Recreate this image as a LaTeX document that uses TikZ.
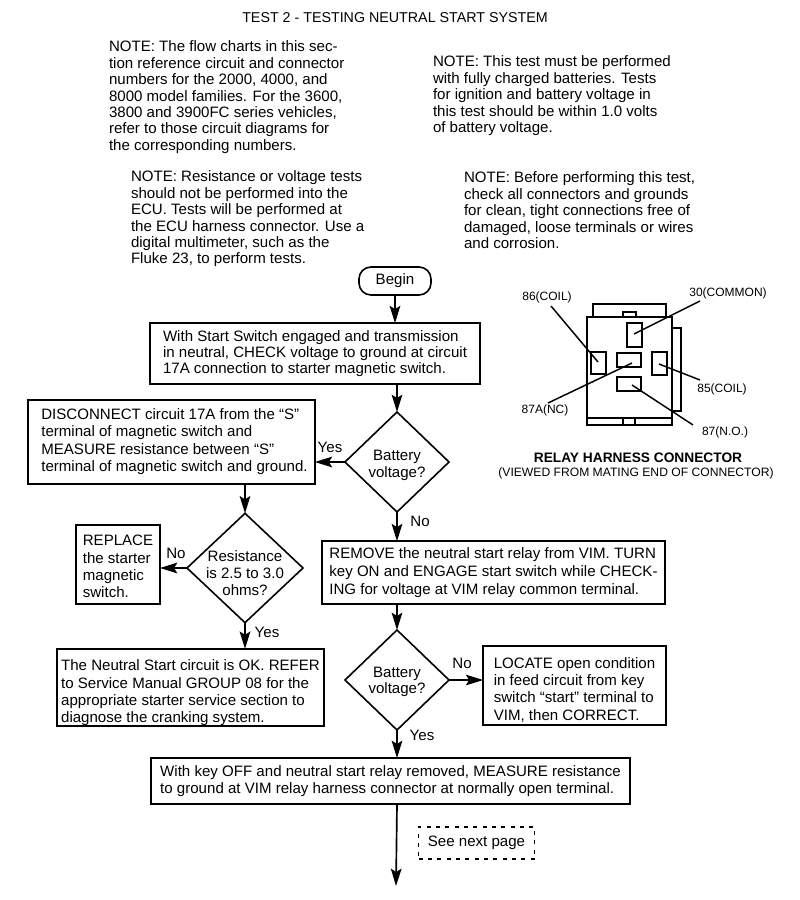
\documentclass[tikz,border=0pt]{standalone}
\usepackage{fontspec}
\setmainfont{Liberation Sans}
\usetikzlibrary{shapes.geometric,arrows.meta}
\tikzset{
  every node/.style={inner sep=0pt,outer sep=0pt,font=\fontsize{11.3}{12.3}\selectfont},
  note/.style={anchor=north west,align=left},
  pbox/.style={draw,line width=1.2pt,minimum width=#1,align=left},
  pbox/.default=10pt,
  wide/.style={font=\fontsize{11.3}{12.9}\selectfont},
  wider/.style={font=\fontsize{11.3}{13.6}\selectfont},
  dec/.style={draw,diamond,aspect=1.04,line width=1.2pt,align=center,inner sep=-9pt},
  flow/.style={line width=1.25pt,-{Stealth[length=13pt,width=8pt,inset=2.5pt]}},
  lab/.style={font=\fontsize{11.3}{12}\selectfont},
  small/.style={font=\fontsize{9}{10}\selectfont},
  rel/.style={draw,line width=1.1pt},
  lead/.style={line width=1.1pt},
}
\begin{document}
\begin{tikzpicture}[x=0.75pt,y=-0.75pt]
\useasboundingbox (0,0) rectangle (800,900);
\node (title) at (395,18) {\fontsize{10.7}{12}\selectfont TEST 2 - TESTING NEUTRAL START SYSTEM};
\node[note] (n1) at (109,41) {NOTE: The flow charts in this sec-\\tion reference circuit and connector\\numbers for the 2000, 4000, and\\8000 model families. For the 3600,\\3800 and 3900FC series vehicles,\\refer to those circuit diagrams for\\the corresponding numbers.};
\node[note] (n2) at (433,56) {NOTE: This test must be performed\\with fully charged batteries. Tests\\for ignition and battery voltage in\\this test should be within 1.0 volts\\of battery voltage.};
\node[note] (n3) at (131,171) {NOTE: Resistance or voltage tests\\should not be performed into the\\ECU. Tests will be performed at\\the ECU harness connector. Use a\\digital multimeter, such as the\\Fluke 23, to perform tests.};
\node[note] (n4) at (464,172) {NOTE: Before performing this test,\\check all connectors and grounds\\for clean, tight connections free of\\damaged, loose terminals or wires\\and corrosion.};

\node[draw,line width=1.2pt,rounded corners=9pt,minimum width=54pt,minimum height=21pt] (begin) at (395,281) {Begin};
\node[pbox=247.5pt,minimum height=45.5pt,inner sep=4pt] (b1) at (315,353.5) {With Start Switch engaged and transmission\\in neutral, CHECK voltage to ground at circuit\\17A connection to starter magnetic switch.};
\node[dec,minimum width=78pt,minimum height=75pt] (d1) at (397,462) {\rule{0pt}{13pt}Battery\\voltage?};
\node[pbox=215pt,minimum height=63pt,inner sep=4pt,wide] (b2) at (171.5,442) {\begin{tabular}{@{\hspace{4.5pt}}l@{}}DISCONNECT circuit 17A from the ``S''\\terminal of magnetic switch and\\MEASURE resistance between ``S''\\terminal of magnetic switch and ground.\end{tabular}};
\node[dec,minimum width=87pt,minimum height=82pt,wide] (d2) at (245,568) {\rule{0pt}{16pt}Resistance\\is 2.5 to 3.0\\ohms?};
\node[pbox=63pt,minimum height=59pt,inner xsep=3pt,inner ysep=0pt,wide] (b3) at (118,564.5) {\rule{0pt}{11pt}REPLACE\\the starter\\magnetic\\switch.};
\node[pbox=200pt,minimum height=58pt,inner xsep=3pt,inner ysep=0pt,wide] (b4) at (190.5,687.5) {\rule{0pt}{16pt}The Neutral Start circuit is OK. REFER\\to Service Manual GROUP 08 for the\\appropriate starter service section to\\diagnose the cranking system.};
\node[pbox=257pt,minimum height=47pt,inner sep=4pt,wider] (b5) at (493.5,572.5) {REMOVE the neutral start relay from VIM. TURN\\key ON and ENGAGE start switch while CHECK-\\ING for voltage at VIM relay common terminal.};
\node[dec,minimum width=78pt,minimum height=75pt] (d3) at (397,680) {\rule{0pt}{11pt}Battery\\voltage?};
\node[pbox=137pt,minimum height=59pt,inner xsep=4pt,inner ysep=0pt,wide] (b6) at (574.5,685.5) {\rule{0pt}{14.5pt}LOCATE open condition\\in feed circuit from key\\switch ``start'' terminal to\\VIM, then CORRECT.};
\node[pbox=359pt,minimum height=34.5pt,inner sep=4pt] (b7) at (390.5,781) {With key OFF and neutral start relay removed, MEASURE resistance\\to ground at VIM relay harness connector at normally open terminal.};
\node[draw,line width=1.2pt,dash pattern=on 3pt off 4pt,minimum width=87pt,minimum height=24pt,text depth=2pt] (next) at (476.5,843) {See next page};
\coordinate (end) at (396,886);

\draw[flow] (begin) -- (begin |- b1.north);
\draw[flow] (d1 |- b1.south) -- (d1.north);
\draw[flow] (d1.west) -- (b2.east |- d1.west);
\draw[flow] (d1.south) -- (d1 |- b5.north);
\draw[flow] (d2 |- b2.south) -- (d2.north);
\draw[flow] (d2.west) -- (b3.east |- d2.west);
\draw[flow] (d2.south) -- (d2 |- b4.north);
\draw[flow] (d3 |- b5.south) -- (d3.north);
\draw[flow] (d3.east) -- (b6.west |- d3.east);
\draw[flow] (d3.south) -- (d3 |- b7.north);
\draw[flow] (d3 |- b7.south) -- (end);

\node[lab] (y1) at (330,447) {Yes};
\node[lab] (n5) at (420,521) {No};
\node[lab] (n6) at (176,553) {No};
\node[lab] (y2) at (267,632) {Yes};
\node[lab] (n7) at (462,663) {No};
\node[lab] (y3) at (422,735) {Yes};

% relay connector
\draw[rel] (593,317) -- (593,304) -- (666,304) -- (666,317);
\draw[rel] (623,317) -- (623,312) -- (636,312) -- (636,317);
\draw[rel] (672,328) -- (681,328) -- (681,411) -- (672,411);
\draw[rel] (587,317) rectangle (672,425);
\draw[rel] (587,418) -- (672,418);
\draw[rel] (623,418) -- (623,425) (635,418) -- (635,425);
\node[rel,minimum width=11.25pt,minimum height=18pt] (p30) at (634.5,335) {};
\node[rel,minimum width=11.25pt,minimum height=16.5pt] (p86) at (598.5,363) {};
\node[rel,minimum width=18pt,minimum height=10.5pt] (p87a) at (629,360) {};
\node[rel,minimum width=11.25pt,minimum height=17.25pt] (p85) at (659.5,363.5) {};
\node[rel,minimum width=18pt,minimum height=10.5pt] (p87) at (629,384) {};
\node[small] (l86) at (547,297) {86(COIL)};
\node[small] (l30) at (728,293) {30(COMMON)};
\node[small] (l85) at (722,389) {85(COIL)};
\node[small] (l87a) at (545,410) {87A(NC)};
\node[small] (l87) at (725,432) {87(N.O.)};
\coordinate (t86) at (598,362);
\coordinate (t30) at (634,334);
\coordinate (t87a) at (632,363);
\coordinate (t85) at (659,364);
\coordinate (t87) at (632,385);
\coordinate (s86) at (551,306);
\coordinate (s30) at (700,301);
\coordinate (s87a) at (548,403);
\coordinate (s85) at (700,380);
\coordinate (s87) at (693,425);
\draw[lead] (s86) -- (t86);
\draw[lead] (s30) -- (t30);
\draw[lead] (s87a) -- (t87a);
\draw[lead] (s85) -- (t85);
\draw[lead] (s87) -- (t87);
\node (rt) at (638,458) {\fontsize{10.3}{11}\selectfont\bfseries RELAY HARNESS CONNECTOR};
\node (rs) at (636,473) {\fontsize{9.1}{11}\selectfont (VIEWED FROM MATING END OF CONNECTOR)};
\end{tikzpicture}
\end{document}
